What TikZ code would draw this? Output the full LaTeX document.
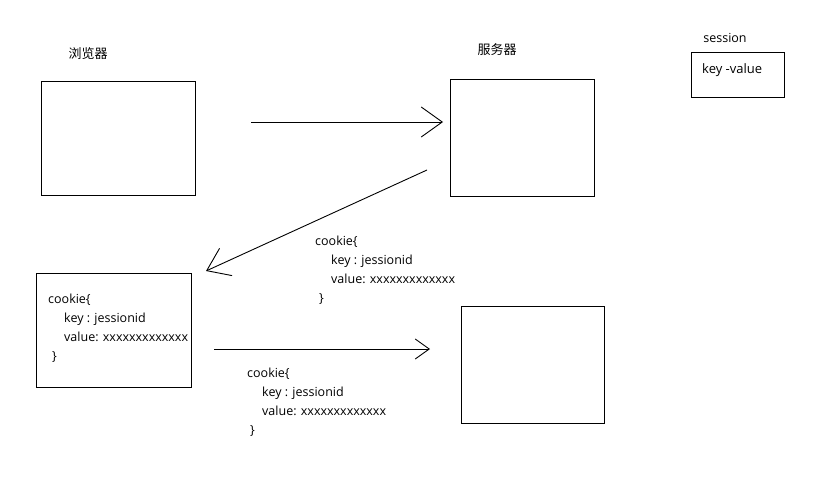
\documentclass[tikz,border=0pt]{standalone}
\usepackage{fontspec}
\setmainfont{Open Sans}
\newfontfamily\cjk{Noto Sans CJK SC}
\usetikzlibrary{arrows.meta}

\begin{document}
\begin{tikzpicture}[x=1pt, y=-1pt,
    box/.style={draw, line width=0.9pt, inner sep=0pt, anchor=north west},
    cookie/.style={inner sep=0pt, anchor=north west, align=left, font=\fontsize{12.5}{18.8}\selectfont},
    title/.style={inner sep=0pt, font=\cjk\fontsize{13}{13}\selectfont},
    bigarrow/.style={line width=0.9pt, -{Straight Barb[length=21pt, width=30pt]}},
    smallarrow/.style={line width=0.9pt, -{Straight Barb[length=14pt, width=20pt]}}]
  \useasboundingbox (0,0) rectangle (825,479);

  % titles
  \node[title] (browsertitle) at (88,54) {浏览器};
  \node[title] (servertitle) at (497,50) {服务器};
  \node[inner sep=0pt, font=\fontsize{12.5}{12.5}\selectfont] (sessiontitle) at (725,38) {session};

  % boxes
  \node[box, minimum width=154pt, minimum height=114pt] (browser) at (41,81) {};
  \node[box, minimum width=144pt, minimum height=117pt] (server) at (450,79) {};
  \node[box, minimum width=93pt, minimum height=45pt] (session) at (691,52) {};
  \node[inner sep=0pt, anchor=west, font=\fontsize{13}{13}\selectfont] (keyvalue) at (702,70) {key -value};
  \node[box, minimum width=155pt, minimum height=114pt] (browsercookie) at (36,273) {};
  \node[box, minimum width=143pt, minimum height=117pt] (server2) at (461,306) {};

  % cookie texts
  \node[cookie] (cookieback) at (315,236) {cookie\{\\\hspace*{16pt}key : jessionid\\\hspace*{16pt}value: xxxxxxxxxxxxx\\\hspace*{4pt}\}};
  \node[cookie] (cookiestore) at (48,294) {cookie\{\\\hspace*{16pt}key : jessionid\\\hspace*{16pt}value: xxxxxxxxxxxxx\\\hspace*{4pt}\}};
  \node[cookie] (cookiesend) at (247,368) {cookie\{\\\hspace*{15pt}key : jessionid\\\hspace*{15pt}value: xxxxxxxxxxxxx\\\hspace*{3pt}\}};

  % arrows
  \coordinate (req1) at (251,122);
  \coordinate (req1end) at (443,122);
  \coordinate (resp) at (427,170);
  \coordinate (respend) at (206,271);
  \coordinate (req2) at (214,349);
  \coordinate (req2end) at (430,349);
  \draw[bigarrow] (req1) -- (req1end);
  \draw[bigarrow] (resp) -- (respend);
  \draw[smallarrow] (req2) -- (req2end);
\end{tikzpicture}
\end{document}
